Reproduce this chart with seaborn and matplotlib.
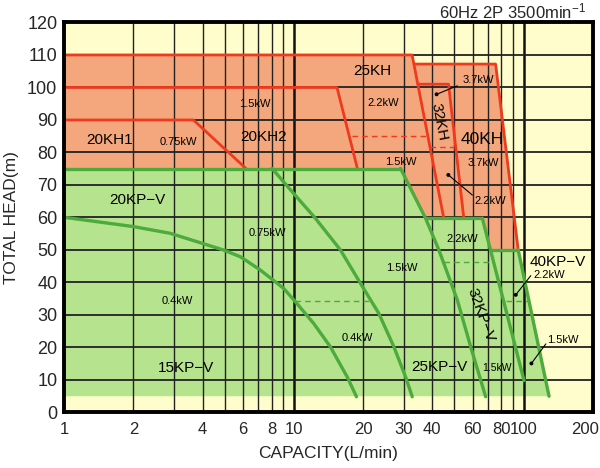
import numpy as np
import pandas as pd
import matplotlib
matplotlib.use("Agg")
import matplotlib.pyplot as plt
import matplotlib.transforms as mtransforms
import seaborn as sns
from matplotlib.ticker import FixedLocator, NullFormatter, FixedFormatter

# ---------------- data ----------------
x_ticks = [1, 2, 4, 6, 8, 10, 20, 30, 40, 60, 80, 100, 200]
x_tick_labels = ["1", "2", "4", "6", "8", "10", "20", "30", "40", "60", "80", "100", "200"]
y_ticks = list(range(0, 121, 10))
grid_x = [2, 3, 4, 5, 6, 7, 8, 9, 20, 30, 40, 50, 60, 70, 80, 90]
grid_x_decade = [10, 100]

# orange (KH) area outline and green (KP-V) area outline
kh_area_x = [1, 1, 32.7, 33.4, 75.5, 94.7, 1]
kh_area_y = [75, 110, 110, 107.2, 107.2, 50, 50]
kp_area_x = [1, 1, 29.1, 37.4, 66.1, 71.9, 94.7, 129, 1]
kp_area_y = [5, 75, 75, 59.75, 59.75, 50, 50, 5, 5]

# red (KH) lines
kh25_top_x = [1, 32.7, 44.8]
kh25_top_y = [110, 110, 60.2]
kh20h2_x = [1, 15.4, 18.9]
kh20h2_y = [100, 100, 75]
kh20h1_x = [1, 3.65, 6.2]
kh20h1_y = [90, 90, 75]
kh32_x = [34.8, 47.1, 54.8]
kh32_y = [101, 101, 60.2]
kh40_x = [33.4, 75.5, 94.7]
kh40_y = [107.2, 107.2, 50]
kh_dash1_x = [17.9, 38.7]
kh_dash1_y = [85.1, 85.1]
kh_dash2_x = [39.3, 49.7]
kh_dash2_y = [81.8, 81.8]

# green (KP-V) lines
kp_top_x = [1, 29.1]
kp_top_y = [75, 75]
kp15_04_x = [1, 2.0, 2.891, 4.935, 5.838, 7.137, 9.018, 10.14, 12.19, 14.41, 17.04, 18.72]
kp15_04_y = [60.06, 57.2, 55.14, 50.0, 47.94, 43.85, 38.2, 34.1, 27.4, 20.2, 11.0, 4.86]
kp20_075_x = [8.025, 9.97, 12.40, 15.94, 19.48, 23.41, 27.22, 30.61, 32.73]
kp20_075_y = [75.1, 67.4, 59.75, 50.0, 39.75, 30.5, 20.25, 11.0, 4.86]
kp25_15_x = [29.11, 37.42, 42.76, 51.44, 58.79, 68.34]
kp25_15_y = [75.1, 59.75, 50.0, 34.6, 20.25, 4.86]
kp25_top_x = [37.42, 66.1]
kp25_top_y = [59.75, 59.75]
kp32_x = [66.1, 100.4]
kp32_y = [59.75, 9.8]
kp40_top_x = [71.9, 94.7]
kp40_top_y = [50, 50]
kp40_x = [94.7, 129]
kp40_y = [50, 5]
kp_dash1_x = [10.14, 21.9]
kp_dash1_y = [34.3, 34.3]
kp_dash2_x = [45.0, 71.9]
kp_dash2_y = [46.2, 46.2]
kp_dash3_x = [83.5, 103.9]
kp_dash3_y = [34.3, 34.3]

# text labels: (text, x, y, size, rotation)
labels = [
    ("20KH1", 1.58, 83.8, 11, 0),
    ("0.75kW", 3.13, 83.2, 8, 0),
    ("20KH2", 7.35, 84.8, 11, 0),
    ("1.5kW", 6.79, 94.9, 8, 0),
    ("25KH", 21.9, 105.2, 11, 0),
    ("2.2kW", 24.5, 95.1, 8, 0),
    ("3.7kW", 63.2, 102.3, 8, 0),
    ("32KH", 42.8, 89.5, 11, -79),
    ("40KH", 66.1, 84.1, 12.5, 0),
    ("1.5kW", 29.1, 77.0, 8, 0),
    ("3.7kW", 66.8, 76.7, 8, 0),
    ("2.2kW", 71.9, 65.2, 8, 0),
    ("20KP\u2212V", 2.075, 65.4, 11, 0),
    ("0.75kW", 7.63, 55.1, 8, 0),
    ("0.4kW", 3.11, 34.4, 8, 0),
    ("15KP\u2212V", 3.38, 13.7, 11, 0),
    ("0.4kW", 18.96, 22.8, 8, 0),
    ("1.5kW", 29.6, 44.4, 8, 0),
    ("2.2kW", 54.1, 53.4, 8, 0),
    ("25KP\u2212V", 42.8, 13.9, 11, 0),
    ("1.5kW", 76.9, 13.7, 7.5, 0),
    ("32KP\u2212V", 65.0, 30.0, 11, -70),
    ("40KP\u2212V", 140.4, 46.2, 11, 0),
    ("2.2kW", 129.1, 42.4, 8, 0),
    ("1.5kW", 147.6, 22.3, 8, 0),
]
# leader lines (dot end first)
leaders_x = [[41.8, 51.4], [47.0, 59.8], [92.4, 107.4], [108.1, 124.9]]
leaders_y = [[97.9, 100.5], [73.1, 66.9], [36.2, 42.1], [15.1, 21.1]]

# ---------------- style ----------------
sns.set_style("white")
plt.rcParams['font.family'] = ['Liberation Sans', 'DejaVu Sans']
plt.rcParams['mathtext.fontset'] = 'custom'
plt.rcParams['mathtext.rm'] = 'Liberation Sans'
plt.rcParams['mathtext.it'] = 'Liberation Sans'

C_BG = '#FFFDCB'
C_OR = '#F4A77C'
C_GR = '#B6E48E'
C_RED = '#EE3A1E'
C_GRL = '#4DAA3C'

fig = plt.figure(figsize=(6, 4.68), dpi=100)
ax = fig.add_axes([0.107, 0.1186, 0.881, 0.8334])
ax.set_facecolor(C_BG)
ax.set_xscale('log')
ax.set_xlim(1, 200)
ax.set_ylim(0, 120)

ax.fill(kh_area_x, kh_area_y, color=C_OR, lw=0, zorder=1)
ax.fill(kp_area_x, kp_area_y, color=C_GR, lw=0, zorder=1.1)

# grid
for gx in grid_x:
    ax.axvline(gx, color='#222222', lw=1.0, zorder=2)
for gx in grid_x_decade:
    ax.axvline(gx, color='#111111', lw=1.8, zorder=2)
for gy in y_ticks[1:-1]:
    ax.axhline(gy, color='#222222', lw=1.3, zorder=2)


def draw(xs, ys, color, lw, ls='-'):
    sns.lineplot(x=xs, y=ys, ax=ax, sort=False, estimator=None, color=color,
                 lw=lw, linestyle=ls, zorder=3)


for xs, ys in [(kh25_top_x, kh25_top_y), (kh20h2_x, kh20h2_y), (kh20h1_x, kh20h1_y),
               (kh32_x, kh32_y), (kh40_x, kh40_y)]:
    draw(xs, ys, C_RED, 2.0)
for xs, ys in [(kh_dash1_x, kh_dash1_y), (kh_dash2_x, kh_dash2_y)]:
    draw(xs, ys, C_RED, 1.0, (0, (4, 3)))

for xs, ys in [(kp_top_x, kp_top_y), (kp15_04_x, kp15_04_y), (kp20_075_x, kp20_075_y),
               (kp25_15_x, kp25_15_y), (kp25_top_x, kp25_top_y), (kp32_x, kp32_y),
               (kp40_top_x, kp40_top_y), (kp40_x, kp40_y)]:
    draw(xs, ys, C_GRL, 2.4)
for xs, ys in [(kp_dash1_x, kp_dash1_y), (kp_dash2_x, kp_dash2_y), (kp_dash3_x, kp_dash3_y)]:
    draw(xs, ys, C_GRL, 1.0, (0, (4, 3)))

for lx, ly in zip(leaders_x, leaders_y):
    draw(lx, ly, 'black', 0.8)
    sns.scatterplot(x=[lx[0]], y=[ly[0]], ax=ax, color='black', s=8, zorder=4,
                    edgecolor='none')

for t, x, y, s, r in labels:
    ax.text(x, y, t, fontsize=s, rotation=r, ha='center', va='center',
            color='black', zorder=5, rotation_mode='anchor')

# axes / ticks
ax.xaxis.set_major_locator(FixedLocator(x_ticks))
ax.xaxis.set_major_formatter(FixedFormatter(x_tick_labels))
ax.xaxis.set_minor_locator(FixedLocator([]))
ax.xaxis.set_minor_formatter(NullFormatter())
ax.set_yticks(y_ticks)
ax.tick_params(axis='x', length=0, labelsize=12, pad=7)
ax.tick_params(axis='y', length=0, labelsize=13, pad=5)
for sp in ax.spines.values():
    sp.set_visible(True)
    sp.set_linewidth(2.8)
    sp.set_color('black')
    sp.set_zorder(6)

fig.canvas.draw()
last = ax.get_xticklabels()[-1]
last.set_transform(last.get_transform() +
                   mtransforms.ScaledTranslation(-8 / 100, 0, fig.dpi_scale_trans))

ax.set_xlabel("CAPACITY(L/min)", fontsize=12.5, labelpad=6)
ax.set_ylabel("TOTAL HEAD(m)", fontsize=12.5, labelpad=6)
fig.text(0.977, 0.976, "60Hz 2P 3500min$^{-1}$", ha='right', va='center', fontsize=12)

fig.savefig("out.png", dpi=100)
